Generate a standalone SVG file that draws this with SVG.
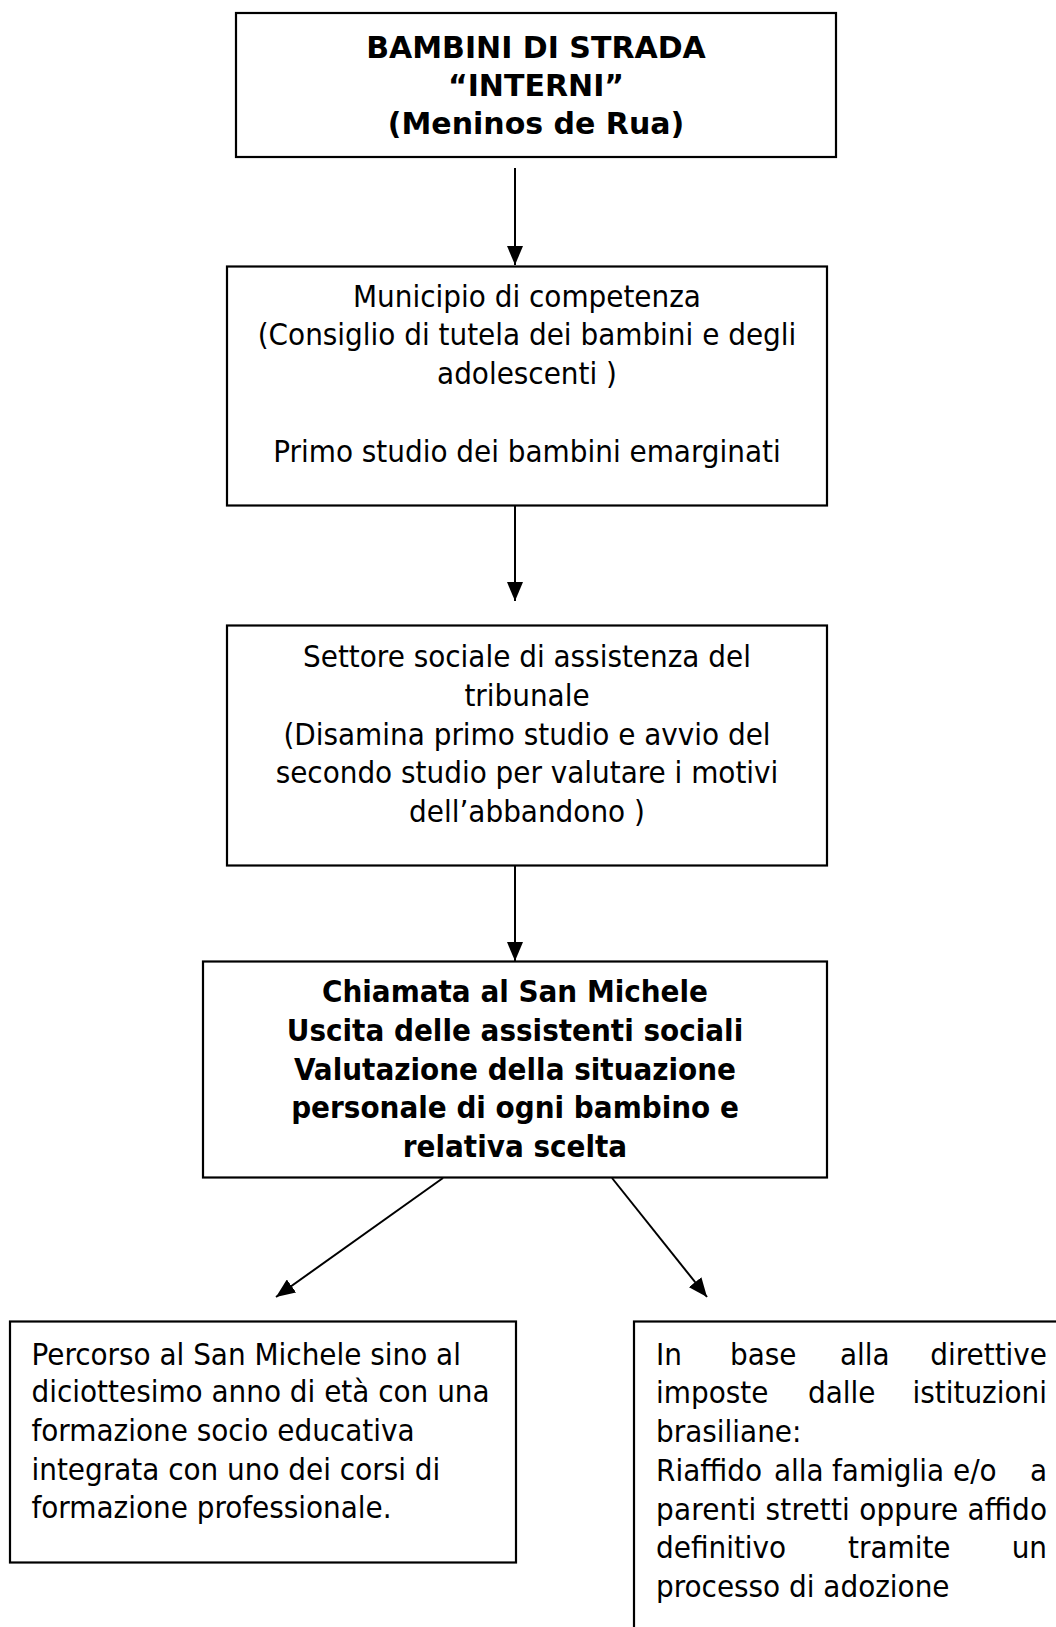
<svg xmlns="http://www.w3.org/2000/svg" width="1056" height="1627" viewBox="0 0 1056 1627">
<style>
.box{fill:#fff;stroke:#000;stroke-width:2.2}
.t{font-family:"DejaVu Sans","Liberation Sans",sans-serif;font-stretch:condensed;font-size:31px;fill:#000}
.b{font-weight:bold}
.w{font-stretch:normal;font-size:30px}
.c{text-anchor:middle}
.e{text-anchor:end}
.con{stroke:#000;stroke-width:2;fill:none;marker-end:url(#ah)}
</style>
<defs>
<marker id="ah" markerUnits="userSpaceOnUse" markerWidth="19" markerHeight="16" refX="19" refY="8" orient="auto">
<path d="M0,0 L19,8 L0,16 z" fill="#000"/>
</marker>
</defs>
<rect width="1056" height="1627" fill="#fff"/>
<g id="connectors">
<line class="con" x1="515" y1="168" x2="515" y2="265"/>
<line class="con" x1="515" y1="506" x2="515" y2="601"/>
<line class="con" x1="515" y1="866" x2="515" y2="961"/>
<line class="con" x1="443" y1="1178" x2="276" y2="1297"/>
<line class="con" x1="612" y1="1178" x2="707" y2="1297"/>
</g>
<g id="node1">
<rect class="box" x="236" y="13" width="600" height="144"/>
<text class="t b w c" x="536" y="58">BAMBINI DI STRADA</text>
<text class="t b w c" x="536" y="96">“INTERNI”</text>
<text class="t b w c" x="536" y="134">(Meninos de Rua)</text>
</g>
<g id="node2">
<rect class="box" x="227" y="266.5" width="600" height="239"/>
<text class="t c" x="527" y="307">Municipio di competenza</text>
<text class="t c" x="527" y="345">(Consiglio di tutela dei bambini e degli</text>
<text class="t c" x="527" y="384">adolescenti )</text>
<text class="t c" x="527" y="462">Primo studio dei bambini emarginati</text>
</g>
<g id="node3">
<rect class="box" x="227" y="625.5" width="600" height="240"/>
<text class="t c" x="527" y="667">Settore sociale di assistenza del</text>
<text class="t c" x="527" y="706">tribunale</text>
<text class="t c" x="527" y="745">(Disamina primo studio e avvio del</text>
<text class="t c" x="527" y="783">secondo studio per valutare i motivi</text>
<text class="t c" x="527" y="822">dell’abbandono )</text>
</g>
<g id="node4">
<rect class="box" x="203" y="961.5" width="624" height="216"/>
<text class="t b c" x="515" y="1002">Chiamata al San Michele</text>
<text class="t b c" x="515" y="1041">Uscita delle assistenti sociali</text>
<text class="t b c" x="515" y="1080">Valutazione della situazione</text>
<text class="t b c" x="515" y="1118">personale di ogni bambino e</text>
<text class="t b c" x="515" y="1157">relativa scelta</text>
</g>
<g id="node5">
<rect class="box" x="10" y="1321.5" width="506" height="241"/>
<text class="t" x="31.5" y="1365">Percorso al San Michele sino al</text>
<text class="t" x="31.5" y="1402">diciottesimo anno di età con una</text>
<text class="t" x="31.5" y="1441">formazione socio educativa</text>
<text class="t" x="31.5" y="1480">integrata con uno dei corsi di</text>
<text class="t" x="31.5" y="1518">formazione professionale.</text>
</g>
<g id="node6">
<rect class="box" x="634" y="1321.5" width="440" height="320"/>
<text class="t" y="1365"><tspan x="656">In</tspan><tspan x="730">base</tspan><tspan x="840">alla</tspan></text>
<text class="t e" x="1047" y="1365">direttive</text>
<text class="t" y="1403"><tspan x="656">imposte</tspan><tspan x="808">dalle</tspan></text>
<text class="t e" x="1047" y="1403">istituzioni</text>
<text class="t" x="656" y="1442">brasiliane:</text>
<text class="t" y="1481"><tspan x="656">Riaffido</tspan><tspan x="774">alla</tspan><tspan x="832">famiglia</tspan><tspan x="953">e/o</tspan></text>
<text class="t e" x="1047" y="1481">a</text>
<text class="t" x="656" y="1520" textLength="391" lengthAdjust="spacing">parenti stretti oppure affido</text>
<text class="t" y="1558"><tspan x="656">definitivo</tspan><tspan x="848">tramite</tspan></text>
<text class="t e" x="1047" y="1558">un</text>
<text class="t" x="656" y="1597">processo di adozione</text>
</g>
</svg>
